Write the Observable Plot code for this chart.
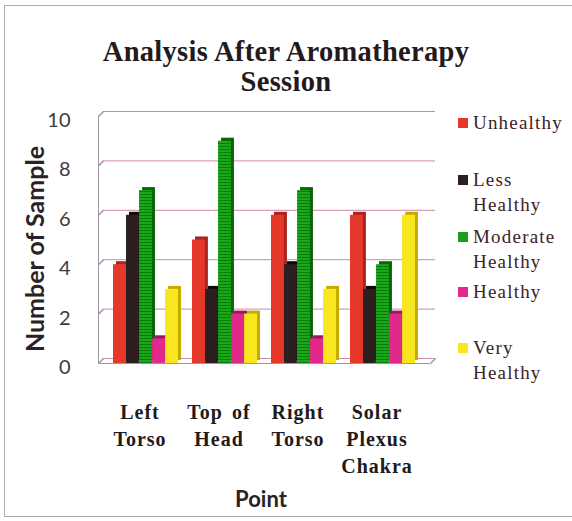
<!DOCTYPE html>
<html>
<head>
<meta charset="utf-8">
<script src="https://cdn.jsdelivr.net/npm/d3@7"></script>
<script src="https://cdn.jsdelivr.net/npm/@observablehq/plot@0.6"></script>
<style>
  body { margin: 0; background: #fff; }
  #wrap { position: relative; width: 572px; height: 521px; overflow: hidden; background: #fff; }
  #chart { position: absolute; left: 0; top: 0; }
  #border { position: absolute; left: 4px; top: 5px; width: 590px; height: 512px; border: 1.5px solid #b3abab; box-sizing: border-box; pointer-events: none; z-index: 5; }
  .title { position: absolute; left: 0; width: 572px; text-align: center; font-family: "Liberation Serif", serif; font-weight: bold; font-size: 28.5px; line-height: 30px; color: #231a1c; letter-spacing: 0.3px; }
  #ylabel { position: absolute; left: 34px; top: 249px; transform: translate(-50%, -50%) rotate(-90deg); white-space: nowrap; font-family: Lato, sans-serif; font-weight: bold; font-size: 25px; color: #2a2224; }
  #xlabel { position: absolute; left: 261px; top: 498px; transform: translate(-50%, -50%); white-space: nowrap; font-family: Lato, sans-serif; font-weight: bold; font-size: 22px; color: #2a2224; }
  .leg { position: absolute; left: 473px; font-family: "Liberation Serif", serif; font-size: 19px; line-height: 25px; letter-spacing: 1.2px; color: #3b2228; white-space: nowrap; }
  .sw { position: absolute; left: 458px; width: 10px; height: 10px; }
  g[aria-label="x-axis tick label"] text { letter-spacing: 1px; word-spacing: 3px; }
</style>
</head>
<body>
<div id="wrap">
  <div id="chart"></div>
  <div id="border"></div>
</div>
<script>
// ---- data ----
const points = ["Left Torso", "Top of Head", "Right Torso", "Solar Plexus Chakra"];
const pointLabels = ["Left\nTorso", "Top of\nHead", "Right\nTorso", "Solar\nPlexus\nChakra"];
const series = ["Unhealthy", "Less Healthy", "Moderate Healthy", "Healthy", "Very Healthy"];
const legendLines = [["Unhealthy"], ["Less", "Healthy"], ["Moderate", "Healthy"], ["Healthy"], ["Very", "Healthy"]];
const unhealthy = [4, 5, 6, 6];
const lessHealthy = [6, 3, 4, 3];
const moderateHealthy = [7, 9, 7, 4];
const healthy = [1, 2, 1, 2];
const veryHealthy = [3, 2, 3, 6];
const yTicks = [0, 2, 4, 6, 8, 10];
const chartTitle = ["Analysis After Aromatherapy", "Session"];
const yTitle = "Number of Sample";
const xTitle = "Point";

// ---- styles ----
const faceColors = ["#e6372b", "#2b1f1f", "url(#greenStripes)", "#e2288b", "#f8e61f"];
const sideColors = ["#a9241b", "#0f0909", "#086608", "#9c1460", "#c4ad00"];
const legendColors = ["#e6372b", "#2b1f1f", "#15a015", "#e2288b", "#f8e61f"];

const values = [unhealthy, lessHealthy, moderateHealthy, healthy, veryHealthy];
const rows = [];
series.forEach((s, si) => points.forEach((p, pi) => rows.push({point: p, series: s, si, value: values[si][pi]})));

const W = 572, H = 521, mL = 98, mR = 142, mT = 116, mB = 158;
const pad = 0.18;
const plotW = W - mL - mR;
const step = plotW / (points.length + pad);
const bw = step * (1 - pad);
const w = bw / series.length;

// custom symbol: short diagonal going up-right (depth edge)
const depth = {draw(ctx) { ctx.moveTo(0, 0); ctx.lineTo(5, -5); }};

const marks = [
  Plot.ruleY(yTicks, {stroke: "#cf8aa8", strokeWidth: 1, dx: 5, dy: -5}),
  Plot.frame({anchor: "left", stroke: "#9d95a6"}),
  Plot.dot(yTicks, {y: d => d, frameAnchor: "left", symbol: depth, stroke: "#9d95a6", fill: "none", r: 1}),
  Plot.ruleY([0], {stroke: "#9d95a6", strokeWidth: 1.2}),
  Plot.dot([0], {y: d => d, frameAnchor: "right", symbol: depth, stroke: "#9d95a6", fill: "none", r: 1}),
];
series.forEach((s, i) => {
  const data = rows.filter(r => r.si === i);
  const inset = {insetLeft: i * w, insetRight: (series.length - 1 - i) * w};
  marks.push(Plot.barY(data, {x: "point", y: "value", fill: sideColors[i], ...inset, dx: 3, dy: -3}));
  marks.push(Plot.barY(data, {x: "point", y: "value", fill: faceColors[i], ...inset}));
});
marks.push(
  Plot.axisY(yTicks, {tickSize: 0, tickPadding: 28, fontSize: 20, fontFamily: "Lato", fill: "#3e3a3c", dy: 4, label: null}),
  Plot.axisX({tickSize: 0, tickPadding: 36, fontSize: 20, fontFamily: "Liberation Serif", fontWeight: "bold", fill: "#231a1c",
    lineHeight: 1.35, dx: -6, label: null, tickFormat: d => pointLabels[points.indexOf(d)]})
);

const chart = Plot.plot({
  width: W, height: H,
  marginLeft: mL, marginRight: mR, marginTop: mT, marginBottom: mB,
  style: {background: "transparent", overflow: "visible"},
  x: {domain: points, padding: pad, label: null},
  y: {domain: [0, 10], label: null},
  marks
});
const ns = "http://www.w3.org/2000/svg";
const defs = document.createElementNS(ns, "defs");
defs.innerHTML = '<pattern id="greenStripes" width="4" height="3" patternUnits="userSpaceOnUse">' +
  '<rect width="4" height="3" fill="#19a819"/><rect y="2" width="4" height="1" fill="#0b7c0b"/></pattern>';
chart.prepend(defs);
document.getElementById("chart").appendChild(chart);

const wrap = document.getElementById("wrap");
function add(cls, text, css) {
  const d = document.createElement("div");
  d.className = cls; d.textContent = text; Object.assign(d.style, css || {});
  wrap.appendChild(d); return d;
}
add("title", chartTitle[0], {top: "37px"});
add("title", chartTitle[1], {top: "67px"});
const yl = document.createElement("div"); yl.id = "ylabel"; yl.textContent = yTitle; wrap.appendChild(yl);
const xl = document.createElement("div"); xl.id = "xlabel"; xl.textContent = xTitle; wrap.appendChild(xl);

const legendCenters = [123, 180, 237, 292, 348];
legendLines.forEach((lines, i) => {
  const c = legendCenters[i];
  const sw = document.createElement("div");
  sw.className = "sw"; sw.style.top = (c - 5) + "px"; sw.style.background = legendColors[i];
  wrap.appendChild(sw);
  lines.forEach((t, j) => add("leg", t, {top: (c - 12.6 + j * 25) + "px"}));
});
</script>
</body>
</html>
